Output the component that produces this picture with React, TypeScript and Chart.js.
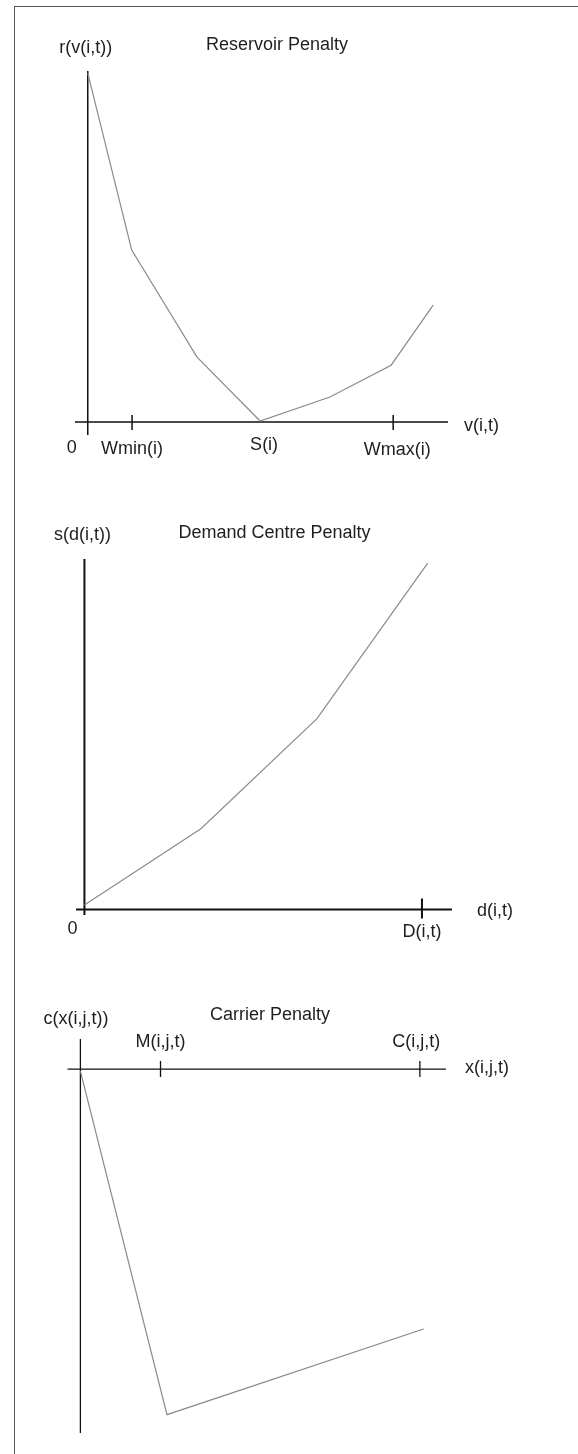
import React, { useEffect, useRef } from "react";
import { Chart, registerables } from "chart.js";

Chart.register(...registerables);

// ---------- Reservoir Penalty ----------
const reservoirVolume = [0, 25.5, 63.4, 100, 140.5, 176, 200.4];
const reservoirPenalty = [100, 49.3, 18.6, 0.3, 7.2, 16.3, 33.5];
const reservoirTickValues = [0, 25.7, 100, 177.2];
const reservoirTickLabels = ["0", "Wmin(i)", "S(i)", "Wmax(i)"];
const reservoirTickMarks = [25.7, 177.2];

// ---------- Demand Centre Penalty ----------
const demandValue = [0, 34.5, 68.9, 101.7];
const demandPenalty = [1.3, 23.3, 55.1, 100];
const demandTickValues = [0, 100];
const demandTickLabels = ["0", "D(i,t)"];
const demandTickMarks = [100];

// ---------- Carrier Penalty ----------
const carrierFlow = [0, 25.5, 101.1];
const carrierPenalty = [-0.6, -100, -75.2];
const carrierTickValues = [23.6, 100];
const carrierTickLabels = ["M(i,j,t)", "C(i,j,t)"];
const carrierTickMarks = [23.6, 100];

const FONT = '18px "Liberation Sans", Arial, sans-serif';
const TEXT_COLOR = "#1e1e1e";
const AXIS_COLOR = "#111111";
const LINE_COLOR = "#8a8a8a";

type Off = { dx: number; dy: number };
type Spec = {
  top: number;
  height: number;
  title: string;
  titlePos: { x: number; y: number };
  yName: string;
  yNameOff: Off;
  xName: string;
  xNameOff: Off;
  xs: number[];
  ys: number[];
  tickValues: number[];
  tickLabels: string[];
  tickLabelOffs: Off[];
  tickMarks: number[];
  tickUp: number;
  tickDown: number;
  axisWidth: number;
  xMin: number;
  xMax: number;
  yMin: number;
  yMax: number;
  padding: { left: number; right: number; top: number; bottom: number };
};

const specs: Spec[] = [
  {
    top: 0,
    height: 480,
    title: "Reservoir Penalty",
    titlePos: { x: 277, y: 45 },
    yName: "r(v(i,t))",
    yNameOff: { dx: -2, dy: -23 },
    xName: "v(i,t)",
    xNameOff: { dx: 16, dy: 4 },
    xs: reservoirVolume,
    ys: reservoirPenalty,
    tickValues: reservoirTickValues,
    tickLabels: reservoirTickLabels,
    tickLabelOffs: [
      { dx: -16, dy: 26 },
      { dx: 0, dy: 27 },
      { dx: 4, dy: 23 },
      { dx: 4, dy: 28 },
    ],
    tickMarks: reservoirTickMarks,
    tickUp: 7,
    tickDown: 8,
    axisWidth: 1.5,
    xMin: -7.4,
    xMax: 209,
    yMin: -3.7,
    yMax: 100.6,
    padding: { left: 75, right: 130, top: 71, bottom: 45 },
  },
  {
    top: 480,
    height: 480,
    title: "Demand Centre Penalty",
    titlePos: { x: 274.5, y: 53 },
    yName: "s(d(i,t))",
    yNameOff: { dx: -2, dy: -24 },
    xName: "d(i,t)",
    xNameOff: { dx: 25, dy: 2 },
    xs: demandValue,
    ys: demandPenalty,
    tickValues: demandTickValues,
    tickLabels: demandTickLabels,
    tickLabelOffs: [
      { dx: -12, dy: 20 },
      { dx: 0, dy: 23 },
    ],
    tickMarks: demandTickMarks,
    tickUp: 11,
    tickDown: 9,
    axisWidth: 2,
    xMin: -2.5,
    xMax: 108.9,
    yMin: -1.6,
    yMax: 101.2,
    padding: { left: 76, right: 126, top: 79, bottom: 45 },
  },
  {
    top: 960,
    height: 494,
    title: "Carrier Penalty",
    titlePos: { x: 270, y: 55 },
    yName: "c(x(i,j,t))",
    yNameOff: { dx: -4.5, dy: -20 },
    xName: "x(i,j,t)",
    xNameOff: { dx: 19, dy: -1 },
    xs: carrierFlow,
    ys: carrierPenalty,
    tickValues: carrierTickValues,
    tickLabels: carrierTickLabels,
    tickLabelOffs: [
      { dx: 0, dy: -27 },
      { dx: -3.5, dy: -27 },
    ],
    tickMarks: carrierTickMarks,
    tickUp: 8,
    tickDown: 8,
    axisWidth: 1.3,
    xMin: -3.8,
    xMax: 107.7,
    yMin: -105.3,
    yMax: 8.7,
    padding: { left: 67.5, right: 132, top: 79, bottom: 21 },
  },
];

function makeAxesPlugin(spec: Spec) {
  return {
    id: "penaltyAxes",
    beforeDatasetsDraw(chart: any) {
      const { ctx, chartArea } = chart;
      const xs = chart.scales.x;
      const ys = chart.scales.y;
      const x0 = xs.getPixelForValue(0);
      const y0 = ys.getPixelForValue(0);
      ctx.save();
      ctx.strokeStyle = AXIS_COLOR;
      ctx.lineWidth = spec.axisWidth;
      ctx.beginPath();
      ctx.moveTo(chartArea.left, y0);
      ctx.lineTo(chartArea.right, y0);
      ctx.moveTo(x0, chartArea.top);
      ctx.lineTo(x0, chartArea.bottom);
      for (const v of spec.tickMarks) {
        const px = xs.getPixelForValue(v);
        ctx.moveTo(px, y0 - spec.tickUp);
        ctx.lineTo(px, y0 + spec.tickDown);
      }
      ctx.stroke();

      ctx.fillStyle = TEXT_COLOR;
      ctx.font = FONT;
      ctx.textBaseline = "middle";
      ctx.textAlign = "center";
      spec.tickValues.forEach((v, i) => {
        const o = spec.tickLabelOffs[i];
        ctx.fillText(spec.tickLabels[i], xs.getPixelForValue(v) + o.dx, y0 + o.dy);
      });
      ctx.fillText(spec.yName, x0 + spec.yNameOff.dx, chartArea.top + spec.yNameOff.dy);
      ctx.fillText(spec.title, spec.titlePos.x, spec.titlePos.y);
      ctx.textAlign = "left";
      ctx.fillText(spec.xName, chartArea.right + spec.xNameOff.dx, y0 + spec.xNameOff.dy);
      ctx.restore();
    },
  };
}

function Panel({ spec }: { spec: Spec }) {
  const ref = useRef<HTMLCanvasElement | null>(null);
  useEffect(() => {
    if (!ref.current) return;
    const chart = new Chart(ref.current, {
      type: "line",
      data: {
        datasets: [
          {
            data: spec.xs.map((x, i) => ({ x, y: spec.ys[i] })),
            borderColor: LINE_COLOR,
            borderWidth: 1.2,
            pointRadius: 0,
            tension: 0,
            fill: false,
            clip: false as any,
          },
        ],
      },
      options: {
        animation: false,
        responsive: false,
        maintainAspectRatio: false,
        events: [],
        layout: { padding: spec.padding },
        plugins: {
          legend: { display: false },
          tooltip: { enabled: false },
          title: { display: false },
        },
        scales: {
          x: { type: "linear", display: false, min: spec.xMin, max: spec.xMax },
          y: { type: "linear", display: false, min: spec.yMin, max: spec.yMax },
        },
      },
      plugins: [makeAxesPlugin(spec)],
    });
    return () => chart.destroy();
  }, [spec]);
  return (
    <canvas
      ref={ref}
      width={578}
      height={spec.height}
      style={{ position: "absolute", left: 0, top: spec.top, width: 578, height: spec.height }}
    />
  );
}

export default function App() {
  return (
    <div
      style={{
        position: "absolute",
        left: 0,
        top: 0,
        width: 578,
        height: 1454,
        background: "#ffffff",
        overflow: "hidden",
      }}
    >
      <div
        style={{
          position: "absolute",
          left: 14,
          top: 6,
          width: 600,
          height: 1500,
          borderLeft: "1px solid #555",
          borderTop: "1px solid #555",
        }}
      />
      {specs.map((s, i) => (
        <Panel key={i} spec={s} />
      ))}
    </div>
  );
}
